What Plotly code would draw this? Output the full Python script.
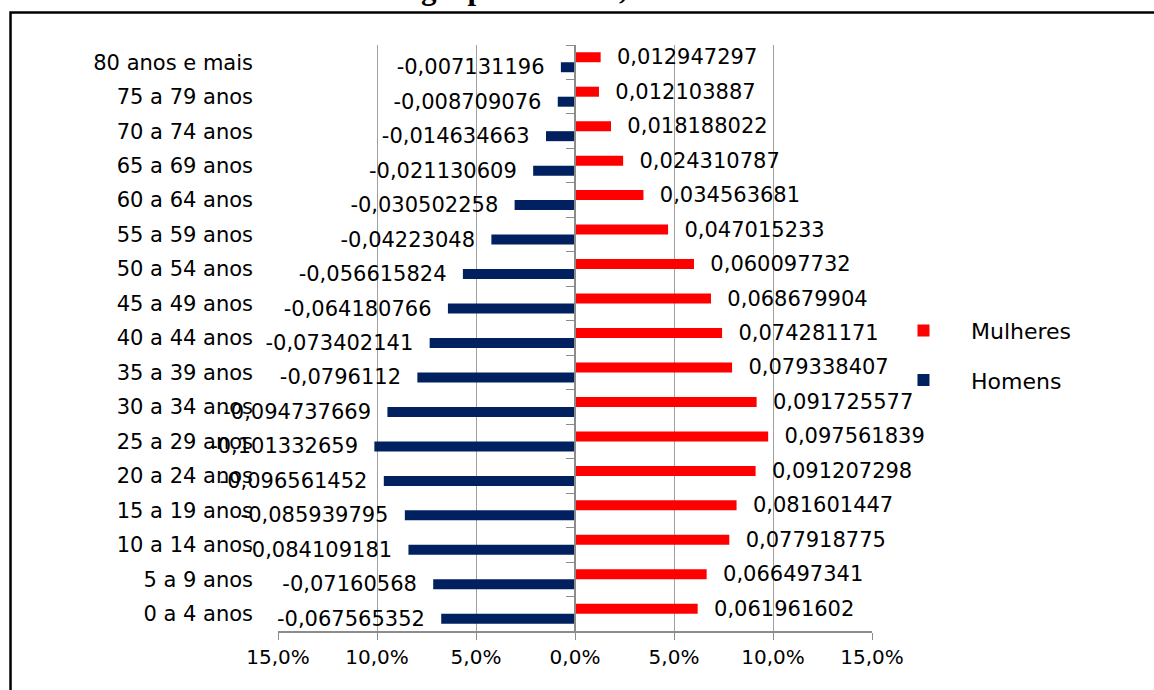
import plotly.graph_objects as go

categorias = ["0 a 4 anos", "5 a 9 anos", "10 a 14 anos", "15 a 19 anos", "20 a 24 anos",
              "25 a 29 anos", "30 a 34 anos", "35 a 39 anos", "40 a 44 anos", "45 a 49 anos",
              "50 a 54 anos", "55 a 59 anos", "60 a 64 anos", "65 a 69 anos", "70 a 74 anos",
              "75 a 79 anos", "80 anos e mais"]

mulheres = [0.061961602, 0.066497341, 0.077918775, 0.081601447, 0.091207298,
            0.097561839, 0.091725577, 0.079338407, 0.074281171, 0.068679904,
            0.060097732, 0.047015233, 0.034563681, 0.024310787, 0.018188022,
            0.012103887, 0.012947297]

homens = [-0.067565352, -0.07160568, -0.084109181, -0.085939795, -0.096561452,
          -0.101332659, -0.094737669, -0.0796112, -0.073402141, -0.064180766,
          -0.056615824, -0.04223048, -0.030502258, -0.021130609, -0.014634663,
          -0.008709076, -0.007131196]

x_tickvals = [-0.15, -0.10, -0.05, 0.0, 0.05, 0.10, 0.15]
x_ticktext = ["15,0%", "10,0%", "5,0%", "0,0%", "5,0%", "10,0%", "15,0%"]

titulo = "grupo de idade, em 2010"

NB = "\u00a0"
FONT = "DejaVu Sans"
GRID = "#a0a0a0"
AXIS = "#8c8c8c"

def fmt(v):
    return repr(v).replace(".", ",")

fig = go.Figure()

fig.add_trace(go.Bar(
    name="Homens", y=categorias, x=homens, orientation="h",
    marker=dict(color="#002060", line=dict(width=0)),
    text=[fmt(v) + NB * 2 for v in homens], textposition="outside",
    textfont=dict(family=FONT, size=21, color="black"),
    constraintext="none", cliponaxis=False, legendgroup="h", legendrank=2,
))
fig.add_trace(go.Bar(
    name="Mulheres", y=categorias, x=mulheres, orientation="h",
    marker=dict(color="#FF0000", line=dict(width=0)),
    text=[NB * 2 + fmt(v) for v in mulheres], textposition="outside",
    textfont=dict(family=FONT, size=21, color="black"),
    constraintext="none", cliponaxis=False, legendgroup="m", legendrank=1,
))
# invisible helper trace for the vertical axis drawn at zero
fig.add_trace(go.Scatter(
    y=categorias, x=mulheres, yaxis="y2", mode="none",
    showlegend=False, hoverinfo="skip",
))

fig.update_layout(
    width=1154, height=690,
    margin=dict(l=278, r=282, t=45, b=59),
    paper_bgcolor="white", plot_bgcolor="white",
    barmode="group", bargap=0.42, bargroupgap=0,
    font=dict(family=FONT, size=21, color="black"),
    showlegend=True,
    legend=dict(
        x=1.0067, xanchor="left", y=0.47, yanchor="middle",
        traceorder="grouped", tracegroupgap=18,
        itemwidth=85, font=dict(family=FONT, size=22, color="black"),
        bgcolor="rgba(0,0,0,0)",
    ),
    xaxis=dict(
        range=[-0.15, 0.15], tickvals=x_tickvals, ticktext=x_ticktext,
        showgrid=True, gridcolor=GRID, gridwidth=1,
        zeroline=True, zerolinecolor=GRID, zerolinewidth=1,
        showline=True, linecolor=AXIS, linewidth=1.5,
        ticks="outside", ticklen=7, tickcolor=AXIS,
        tickfont=dict(family=FONT, size=20, color="black"),
        fixedrange=True,
    ),
    yaxis=dict(
        type="category", categoryarray=categorias, range=[-0.5, 16.5],
        showgrid=False, zeroline=False, showline=False, ticks="",
        ticklabelstandoff=24,
        tickfont=dict(family=FONT, size=21, color="black"),
        fixedrange=True,
    ),
    yaxis2=dict(
        type="category", categoryarray=categorias, range=[-0.5, 16.5],
        overlaying="y", anchor="free", position=0.5, side="left",
        showgrid=False, zeroline=False, showticklabels=False,
        showline=True, linecolor=AXIS, linewidth=1.5,
        ticks="outside", ticklen=8, tickcolor=AXIS, tickson="boundaries",
        fixedrange=True,
    ),
    annotations=[dict(
        text="<b>" + titulo + "</b>", xref="paper", yref="paper",
        x=0.512, y=1.096, xanchor="center", yanchor="middle",
        showarrow=False,
        font=dict(family="Liberation Serif", size=31, color="black"),
    )],
    shapes=[dict(
        type="rect", xref="paper", yref="paper",
        x0=-0.4503, x1=2.0, y0=-1.0, y1=1.0555,
        line=dict(color="black", width=2.5), fillcolor="rgba(0,0,0,0)",
        layer="above",
    )],
)

fig.write_html(
    "out.html",
    config={"displayModeBar": False},
    post_script="document.body.style.margin='0';document.body.style.overflow='hidden';",
)
